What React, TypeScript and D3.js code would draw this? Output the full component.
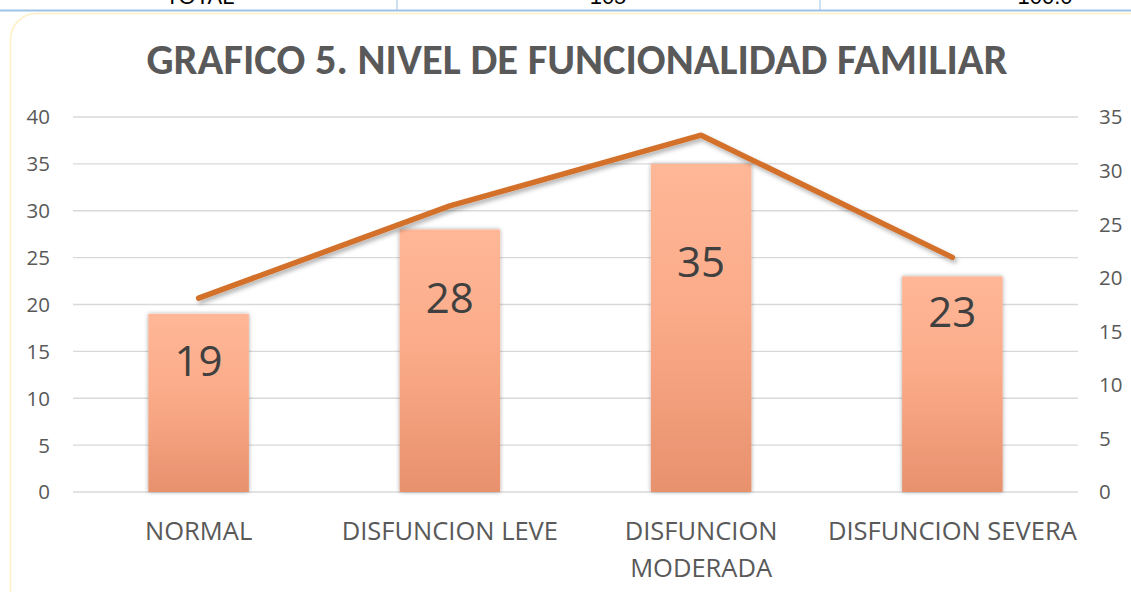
import React from 'react';
import * as d3 from 'd3';

// datos del grafico
const categories = ['NORMAL', 'DISFUNCION LEVE', 'DISFUNCION MODERADA', 'DISFUNCION SEVERA'];
const counts = [19, 28, 35, 23];
const percents = [18.1, 26.7, 33.3, 21.9];
const leftTicks = [0, 5, 10, 15, 20, 25, 30, 35, 40];
const rightTicks = [0, 5, 10, 15, 20, 25, 30, 35];
const tableRow = ['TOTAL', '105', '100.0'];

const W = 1131;
const H = 592;
const TITLE_FONT = "Carlito, Calibri, 'Open Sans', sans-serif";
const FONT = "'Open Sans', sans-serif";

// posicion de las etiquetas dentro de la barra (px bajo el tope)
const labelOffsets = [47, 68, 98, 36];

const App = () => {
    const x = d3
        .scaleBand<string>()
        .domain(categories)
        .range([73, 1078])
        .paddingInner(0.6)
        .paddingOuter(0.3);

    const yLeft = d3.scaleLinear().domain([0, 40]).range([492, 117]);
    const yRight = d3.scaleLinear().domain([0, 35]).range([492, 117]);

    const line = d3
        .line<number>()
        .x((_, i) => (x(categories[i]) as number) + x.bandwidth() / 2)
        .y(d => yRight(d));

    const wrap = (s: string) => (s === 'DISFUNCION MODERADA' ? ['DISFUNCION', 'MODERADA'] : [s]);

    return (
        <svg width={W} height={H} style={{ position: 'absolute', left: 0, top: 0, background: '#fff' }}>
            <defs>
                <linearGradient id="barGrad" x1="0" y1="0" x2="0" y2="1">
                    <stop offset="0%" stopColor="#FFB797" />
                    <stop offset="45%" stopColor="#FBAB89" />
                    <stop offset="100%" stopColor="#E8916D" />
                </linearGradient>
                <filter id="barShadow" x="-20%" y="-20%" width="140%" height="140%">
                    <feDropShadow dx="0" dy="0" stdDeviation="2.2" floodColor="#000" floodOpacity="0.35" />
                </filter>
                <filter id="lineShadow" x="-10%" y="-20%" width="120%" height="140%">
                    <feDropShadow dx="2" dy="3" stdDeviation="2" floodColor="#000" floodOpacity="0.3" />
                </filter>
            </defs>

            {/* resto de la tabla de arriba */}
            <line x1={0} x2={W} y1={10.5} y2={10.5} stroke="#9DC3E6" strokeWidth={2} />
            <line x1={397} x2={397} y1={0} y2={10} stroke="#9DC3E6" strokeWidth={1} />
            <line x1={820} x2={820} y1={0} y2={10} stroke="#9DC3E6" strokeWidth={1} />
            {tableRow.map((t, i) => (
                <text key={t} x={[200, 608, 1045][i]} y={4} textAnchor="middle" fontFamily="'Liberation Sans', Arial" fontSize={22} fill="#000">
                    {t}
                </text>
            ))}

            {/* marco del grafico */}
            <rect x={10.5} y={13.5} width={1150} height={640} rx={26} fill="#fff" stroke="#FFEFC4" strokeWidth={1.5} />

            <text
                x={577}
                y={74}
                textAnchor="middle"
                fontFamily={TITLE_FONT}
                fontWeight="bold"
                fontSize={43}
                fill="#595959"
                textLength={861}
                lengthAdjust="spacingAndGlyphs"
            >
                GRAFICO 5. NIVEL DE FUNCIONALIDAD FAMILIAR
            </text>

            {/* cuadricula */}
            {leftTicks.map(t => (
                <line key={t} x1={73} x2={1078} y1={yLeft(t)} y2={yLeft(t)} stroke="#D9D9D9" strokeWidth={1.3} />
            ))}
            {leftTicks.map(t => (
                <text key={t} x={50} y={yLeft(t)} dy="0.36em" textAnchor="end" fontFamily={FONT} fontSize={20.5} fill="#595959">
                    {t}
                </text>
            ))}
            {rightTicks.map(t => (
                <text key={t} x={1099} y={yRight(t)} dy="0.36em" textAnchor="start" fontFamily={FONT} fontSize={20.5} fill="#595959">
                    {t}
                </text>
            ))}

            {/* barras */}
            {counts.map((v, i) => (
                <rect
                    key={categories[i]}
                    x={x(categories[i])}
                    y={yLeft(v)}
                    width={x.bandwidth()}
                    height={yLeft(0) - yLeft(v)}
                    fill="url(#barGrad)"
                    filter="url(#barShadow)"
                />
            ))}

            <path d={line(percents) || ''} fill="none" stroke="#D3702B" strokeWidth={5.5} strokeLinejoin="round" strokeLinecap="round" filter="url(#lineShadow)" />

            {counts.map((v, i) => (
                <text
                    key={categories[i]}
                    x={(x(categories[i]) as number) + x.bandwidth() / 2}
                    y={yLeft(v) + labelOffsets[i]}
                    dy="0.36em"
                    textAnchor="middle"
                    fontFamily={FONT}
                    fontSize={42}
                    fill="#404040"
                >
                    {v}
                </text>
            ))}

            {/* etiquetas eje x */}
            {categories.map(c => (
                <text key={c} x={(x(c) as number) + x.bandwidth() / 2} y={531} textAnchor="middle" fontFamily={FONT} fontSize={25.5} fill="#595959">
                    {wrap(c).map((s, k) => (
                        <tspan key={s} x={(x(c) as number) + x.bandwidth() / 2} dy={k === 0 ? '0.36em' : 37}>
                            {s}
                        </tspan>
                    ))}
                </text>
            ))}
        </svg>
    );
};

export default App;
